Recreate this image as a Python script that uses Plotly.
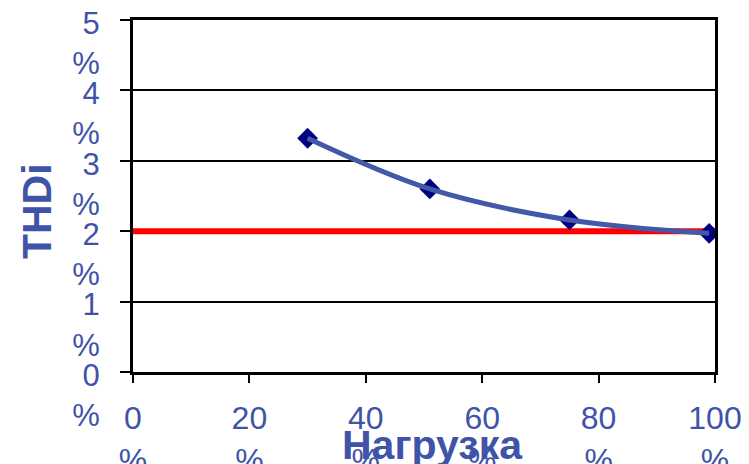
import plotly.graph_objects as go

# Load level, % of rated
load_pct = [30, 51, 75, 99]
# Total harmonic current distortion, %
thdi_pct = [3.32, 2.60, 2.16, 1.97]

# Limit line
limit_x = [0, 100]
limit_y = [2, 2]

x_ticks = [0, 20, 40, 60, 80, 100]
y_ticks = [0, 1, 2, 3, 4, 5]

text_blue = "#3F54A8"
font_family = "Liberation Sans, Arial, sans-serif"

fig = go.Figure()

fig.add_trace(go.Scatter(
    x=limit_x, y=limit_y, mode="lines",
    line=dict(color="#FF0000", width=6),
    hoverinfo="skip", showlegend=False,
))

fig.add_trace(go.Scatter(
    x=load_pct, y=thdi_pct, mode="markers",
    marker=dict(symbol="diamond", size=16, color="#000080", line=dict(width=0)),
    showlegend=False,
))

fig.add_trace(go.Scatter(
    x=load_pct, y=thdi_pct, mode="lines",
    line=dict(color="#4458A8", width=5, shape="spline", smoothing=1),
    showlegend=False,
))

fig.update_layout(
    width=749, height=464,
    margin=dict(l=133, r=34, t=20, b=92),
    paper_bgcolor="white", plot_bgcolor="white",
    font=dict(family=font_family, color=text_blue, size=30),
    showlegend=False,
)

fig.update_xaxes(
    range=[0, 100],
    tickvals=x_ticks,
    ticktext=[f"{v}<br>%" for v in x_ticks],
    ticks="outside", ticklen=8, tickwidth=2, tickcolor="black",
    showline=True, linecolor="black", linewidth=3, mirror=True,
    showgrid=False, zeroline=False,
    tickfont=dict(size=32, color=text_blue),
    ticklabelstandoff=8,
    automargin=False,
)

fig.update_yaxes(
    range=[0, 5],
    tickvals=y_ticks,
    ticktext=[f"{v}<br>%" for v in y_ticks],
    ticks="outside", ticklen=10, tickwidth=2, tickcolor="black",
    showline=True, linecolor="black", linewidth=3, mirror=True,
    showgrid=True, gridcolor="black", gridwidth=1.5,
    zeroline=False,
    tickfont=dict(size=31, color=text_blue),
    ticklabelstandoff=14,
    ticklabelshift=23,
    automargin=False,
)

fig.add_annotation(
    text="<b>THDi</b>", textangle=-90,
    xref="paper", yref="paper", x=-0.165, y=0.457,
    xanchor="center", yanchor="middle", showarrow=False,
    font=dict(size=41, color=text_blue, family=font_family),
)

fig.add_annotation(
    text="<b>Нагрузка</b>",
    xref="paper", yref="paper", x=0.515, y=-0.207,
    xanchor="center", yanchor="middle", showarrow=False,
    font=dict(size=41, color=text_blue, family=font_family),
)

fig.write_html("out.html")
